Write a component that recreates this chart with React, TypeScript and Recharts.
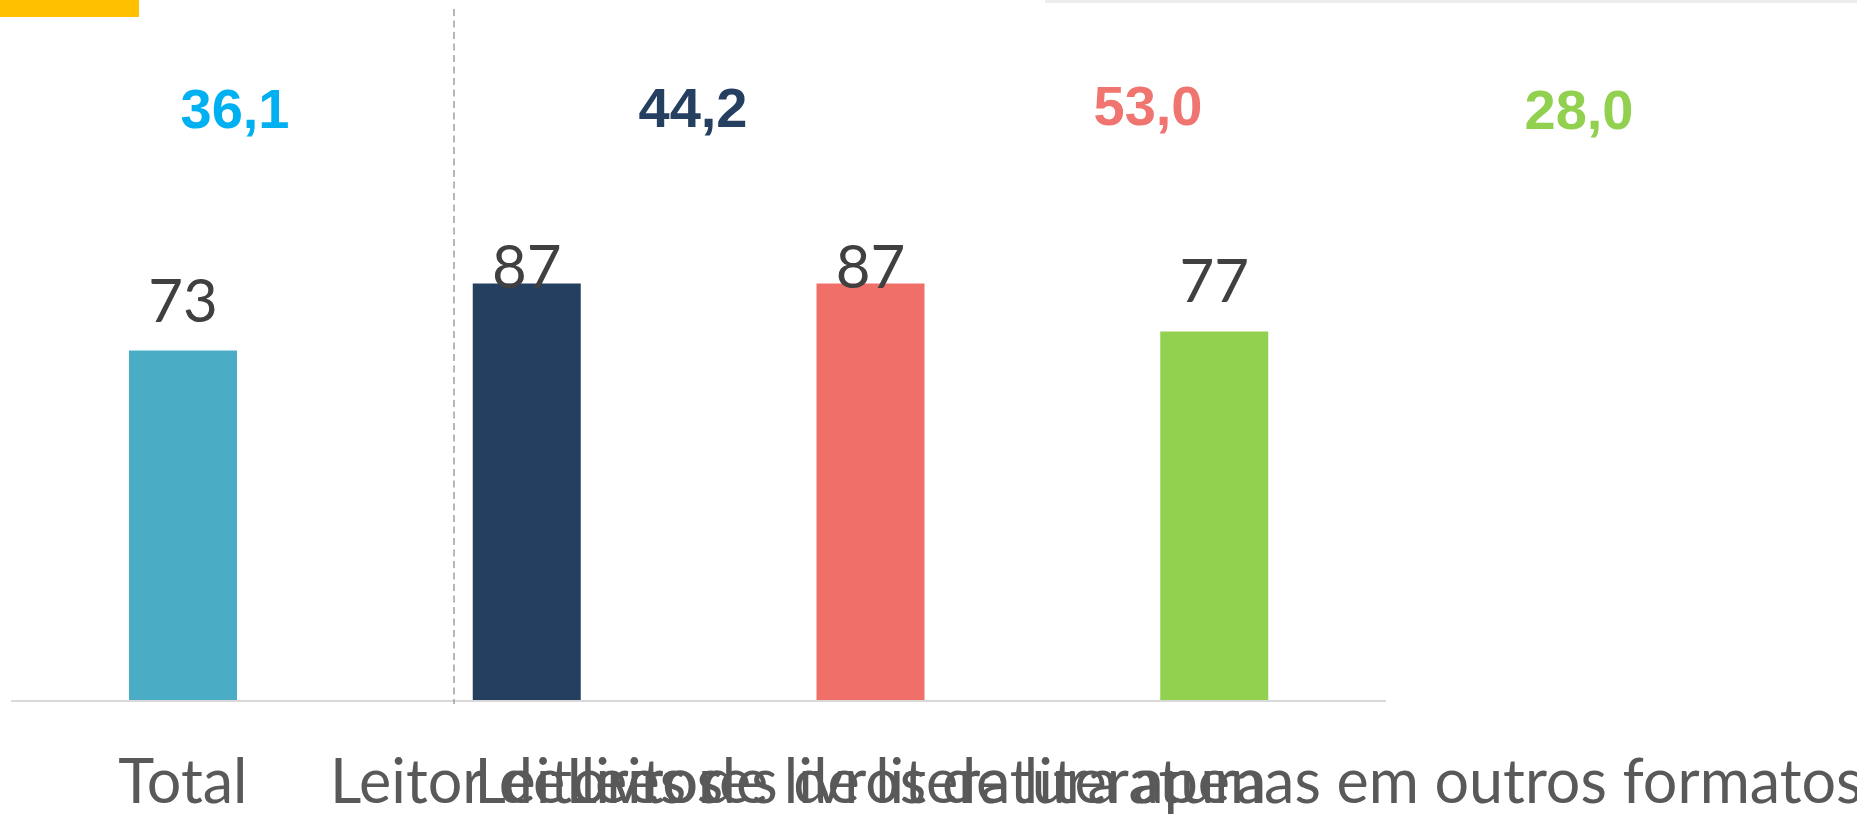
import React from "react";
import { BarChart, Bar, XAxis, YAxis, Cell, LabelList } from "recharts";

// ---- data ----
const categories = [
  "Total",
  "Leitor de livros",
  "Leitores de livros de literatura",
  "Leitores de literatura apenas em outros formatos",
];
const shares = [73, 87, 87, 77];
const averages = [36.1, 44.2, 53.0, 28.0];

// ---- styles / layout ----
const barColors = ["#4bacc6", "#253f60", "#f06f69", "#92d050"];
const avgColors = ["#00b0f0", "#253f60", "#f07470", "#92d050"];
const AVG_X = [235, 693, 1148, 1579];
const AVG_BASELINE = [128, 127, 125, 129];
const W = 1857;
const H = 815;
const LABEL_GAP = 29;
const LABEL_MIN_BASELINE = 288;
const TICK_BASELINE_OFFSET = 102;

const data = categories.map((name, i) => ({ name, value: shares[i] }));

const ValueLabel = (props: any) => {
  const { x, y, width, value } = props;
  const baseline = Math.max(Number(y) - LABEL_GAP, LABEL_MIN_BASELINE);
  return (
    <text
      x={Number(x) + Number(width) / 2}
      y={baseline}
      textAnchor="middle"
      fill="#404040"
      fontFamily="Lato, 'Open Sans', sans-serif"
      fontSize={60}
    >
      {value}
    </text>
  );
};

const CategoryTick = (props: any) => {
  const { x, y, payload } = props;
  return (
    <text
      x={x}
      y={Number(y) + TICK_BASELINE_OFFSET}
      textAnchor="middle"
      fill="#595959"
      fontFamily="Lato, 'Open Sans', sans-serif"
      fontSize={61}
    >
      {payload.value}
    </text>
  );
};

export default function App() {
  return (
    <div
      style={{
        position: "absolute",
        left: 0,
        top: 0,
        width: W,
        height: H,
        overflow: "hidden",
        background: "#ffffff",
      }}
    >
      <BarChart
        width={W}
        height={H}
        data={data}
        margin={{ top: 221, right: 471, bottom: 84, left: 11 }}
        barSize={108}
      >
        <YAxis hide domain={[0, 100]} />
        <XAxis
          dataKey="name"
          interval={0}
          height={30}
          tickLine={false}
          tickSize={0}
          tickMargin={0}
          axisLine={{ stroke: "#d9d9d9", strokeWidth: 2 }}
          tick={<CategoryTick />}
        />
        <Bar dataKey="value" isAnimationActive={false}>
          {data.map((d, i) => (
            <Cell key={d.name} fill={barColors[i]} />
          ))}
          <LabelList dataKey="value" content={<ValueLabel />} />
        </Bar>
      </BarChart>
      <svg
        width={W}
        height={H}
        style={{ position: "absolute", left: 0, top: 0, pointerEvents: "none" }}
      >
        <rect x={0} y={0} width={139} height={17} fill="#ffc000" />
        <rect x={1045} y={0} width={812} height={3} fill="#ececec" />
        <line
          x1={454}
          y1={9}
          x2={454}
          y2={704}
          stroke="#a6a6a6"
          strokeWidth={1.6}
          strokeDasharray="7 4.5"
        />
        {averages.map((v, i) => (
          <text
            key={i}
            x={AVG_X[i]}
            y={AVG_BASELINE[i]}
            textAnchor="middle"
            fill={avgColors[i]}
            fontFamily="'Liberation Sans', Arial, sans-serif"
            fontWeight="bold"
            fontSize={56}
          >
            {v.toFixed(1).replace(".", ",")}
          </text>
        ))}
      </svg>
    </div>
  );
}
